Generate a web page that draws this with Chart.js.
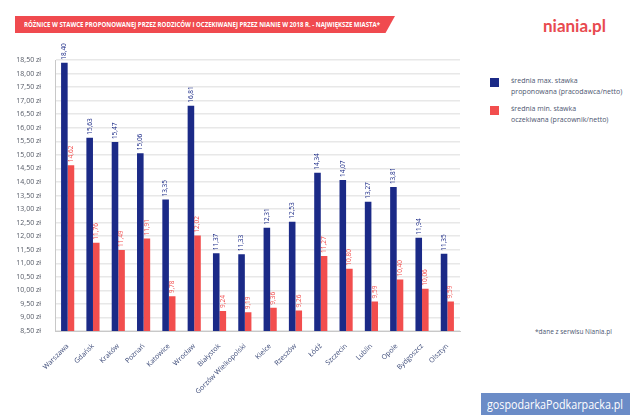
<!DOCTYPE html>
<html lang="pl">
<head>
<meta charset="UTF-8">
<title>Różnice w stawce</title>
<script src="https://cdn.jsdelivr.net/npm/chart.js"></script>
<style>
    body { margin: 0; width: 630px; height: 415px; background: #fff; font-family: "Open Sans", sans-serif; position: relative; overflow: hidden; }
    .banner {
        position: absolute; left: 15px; top: 16px; width: 380px; height: 17px;
        background: #f04a4f; clip-path: polygon(0 0, 100% 0, 97.5% 100%, 0 100%);
        color: #fff; font-weight: bold; font-size: 7.4px; line-height: 17px; padding-left: 9px; box-sizing: border-box;
        white-space: nowrap;
    }
    .fit { display: inline-block; transform-origin: left center; white-space: nowrap; }
    .logo { position: absolute; left: 543px; top: 15px; color: #e84a4f; font-family: "Lato", sans-serif; font-weight: bold; font-size: 17px; }
    #wrap { position: absolute; left: 0; top: 40px; width: 470px; height: 360px; }
    .legend { position: absolute; left: 490px; top: 76px; font-size: 7px; color: #4c5670; line-height: 10.5px; }
    .legend .item { display: flex; align-items: flex-start; margin-bottom: 7px; }
    .legend .box { width: 9px; height: 9px; margin-right: 12px; margin-top: 2px; flex: none; }
    .note { position: absolute; left: 535px; top: 327px; font-size: 6.5px; color: #4c5670; }
    .stamp { position: absolute; left: 481px; top: 393px; width: 149px; height: 22px; background: #6b8cc7; color: #fff; font-size: 13px; line-height: 22px; padding-left: 6px; box-sizing: border-box; font-family: "Open Sans", sans-serif; }
</style>
</head>
<body>
<div class="banner"><span class="fit" data-w="356">RÓŻNICE W STAWCE PROPONOWANEJ PRZEZ RODZICÓW I OCZEKIWANEJ PRZEZ NIANIE W 2018 R. - NAJWIĘKSZE MIASTA*</span></div>
<div class="logo">niania.pl</div>
<div id="wrap"><canvas id="wykres"></canvas></div>
<div class="legend">
    <div class="item"><div class="box" style="background:#1b2a87"></div><div>średnia max. stawka<br>proponowana (pracodawca/netto)</div></div>
    <div class="item"><div class="box" style="background:#f24e4e"></div><div>średnia min. stawka<br>oczekiwana (pracownik/netto)</div></div>
</div>
<div class="note">*dane z serwisu Niania.pl</div>
<div class="stamp"><span class="fit" data-w="136">gospodarkaPodkarpacka.pl</span></div>
<script>
const miasta = ["Warszawa", "Gdańsk", "Kraków", "Poznań", "Katowice", "Wrocław", "Białystok", "Gorzów Wielkopolski",
    "Kielce", "Rzeszów", "Łódź", "Szczecin", "Lublin", "Opole", "Bydgoszcz", "Olsztyn"];
const stawkaMax = [18.40, 15.63, 15.47, 15.06, 13.35, 16.81, 11.37, 11.33, 12.31, 12.53, 14.34, 14.07, 13.27, 13.81, 11.94, 11.35];
const stawkaMin = [14.62, 11.76, 11.49, 11.91, 9.78, 12.02, 9.24, 9.19, 9.36, 9.26, 11.27, 10.80, 9.59, 10.40, 10.06, 9.59];

// dopasowanie szerokosci napisow
document.querySelectorAll(".fit").forEach(el => {
    const w = el.getBoundingClientRect().width;
    el.style.transform = "scaleX(" + (parseFloat(el.dataset.w) / w) + ")";
});

function pl(v) { return v.toFixed(2).replace(".", ","); }

// wartosci pionowo nad slupkami
const etykiety = {
    id: "etykiety",
    afterDatasetsDraw(chart) {
        const ctx = chart.ctx;
        chart.data.datasets.forEach((ds, i) => {
            chart.getDatasetMeta(i).data.forEach((bar, j) => {
                ctx.save();
                ctx.translate(bar.x, bar.y - 3);
                ctx.rotate(-Math.PI / 2);
                ctx.font = "6.5px 'Open Sans'";
                ctx.fillStyle = ds.backgroundColor;
                ctx.textAlign = "left";
                ctx.textBaseline = "middle";
                ctx.fillText(pl(ds.data[j]), 0, 0);
                ctx.restore();
            });
        });
    }
};

new Chart(document.getElementById("wykres"), {
    type: "bar",
    data: {
        labels: miasta,
        datasets: [{
            label: "średnia max. stawka proponowana (pracodawca/netto)",
            data: stawkaMax,
            backgroundColor: "#1b2a87"
        }, {
            label: "średnia min. stawka oczekiwana (pracownik/netto)",
            data: stawkaMin,
            backgroundColor: "#f24e4e"
        }]
    },
    options: {
        responsive: true,
        maintainAspectRatio: false,
        animation: false,
        layout: { padding: { top: 20, right: 10, left: 0, bottom: 0 } },
        datasets: { bar: { categoryPercentage: 0.52, barPercentage: 1.0 } },
        plugins: { legend: { display: false }, tooltip: { enabled: false } },
        scales: {
            x: {
                grid: { display: false },
                border: { color: "#c8c8c8" },
                ticks: { maxRotation: 45, minRotation: 45, autoSkip: false, color: "#3c4a78", font: { size: 7, family: "Open Sans" } },
                afterFit(scale) { scale.height = 69; }
            },
            y: {
                min: 8.5,
                max: 18.5,
                grid: { color: "#e8e8e8", lineWidth: 1.5, drawTicks: false },
                border: { color: "#c8c8c8" },
                ticks: { stepSize: 0.5, padding: 14, color: "#555a66", font: { size: 7, family: "Open Sans" }, callback: v => pl(v) + " zł" },
                afterFit(scale) { scale.width = 55; }
            }
        }
    },
    plugins: [etykiety]
});
</script>
</body>
</html>
